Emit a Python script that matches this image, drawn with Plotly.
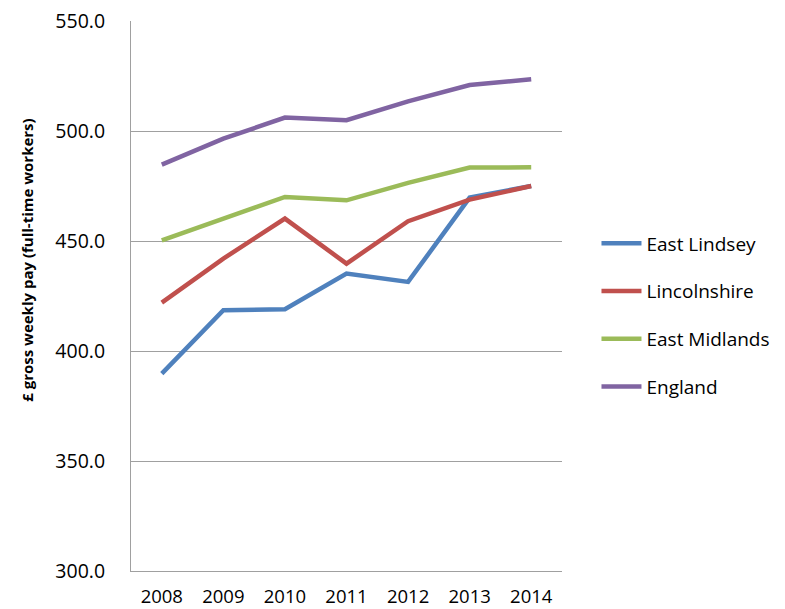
import plotly.graph_objects as go

# Daten
years = ['2008', '2009', '2010', '2011', '2012', '2013', '2014']
east_lindsey = [389.7, 418.5, 419.0, 435.2, 431.4, 469.7, 475.0]
lincolnshire = [422.0, 442.0, 460.2, 439.7, 459.0, 468.8, 475.0]
east_midlands = [450.3, 460.2, 470.0, 468.5, 476.4, 483.4, 483.5]
england = [484.7, 496.5, 506.1, 504.9, 513.5, 520.9, 523.5]

series = [
    ('East Lindsey', east_lindsey, '#4F81BD'),
    ('Lincolnshire', lincolnshire, '#C0504D'),
    ('East Midlands', east_midlands, '#9BBB59'),
    ('England', england, '#8064A2'),
]

font_family = 'Open Sans'

fig = go.Figure()
for name, vals, color in series:
    fig.add_trace(go.Scatter(
        x=years,
        y=vals,
        name=name,
        legendgroup=name,
        mode='lines',
        line=dict(color=color, width=4.5),
    ))

fig.update_xaxes(
    type='category',
    range=[-0.5, 6.5], automargin=False,
    showline=True, linecolor='#A0A0A0', linewidth=1,
    showgrid=False, ticks='', ticklabelstandoff=9,
    ticklabeloverflow='allow',
    tickfont=dict(size=18.5, color='#000000'),
)
fig.update_yaxes(
    range=[300, 550], dtick=50, tickformat='.1f', automargin=False,
    showline=True, linecolor='#A0A0A0', linewidth=1,
    showgrid=True, gridcolor='#A0A0A0', gridwidth=1,
    zeroline=False, ticks='', ticklabelstandoff=21,
    ticklabeloverflow='allow',
    tickfont=dict(size=19.5, color='#000000'),
)

fig.add_annotation(
    text='<b>£ gross weekly pay (full-time workers)</b>',
    textangle=-90, xref='paper', yref='paper',
    x=-0.24, y=0.565, xanchor='center', yanchor='middle',
    showarrow=False, font=dict(size=15, color='#000000', family=font_family),
)

# Seite hat 8px Rand -> Figur etwas kleiner
fig.update_layout(
    width=777, height=601,
    margin=dict(l=123, r=223, t=13, b=38, autoexpand=False),
    plot_bgcolor='white', paper_bgcolor='white',
    font=dict(family=font_family, size=19, color='#000000'),
    showlegend=True,
    legend=dict(
        x=1.08, y=0.63, xanchor='left', yanchor='top',
        traceorder='grouped', tracegroupgap=20,
        font=dict(size=19), itemwidth=40,
        bgcolor='rgba(0,0,0,0)',
    ),
)

fig.write_html('out.html')
